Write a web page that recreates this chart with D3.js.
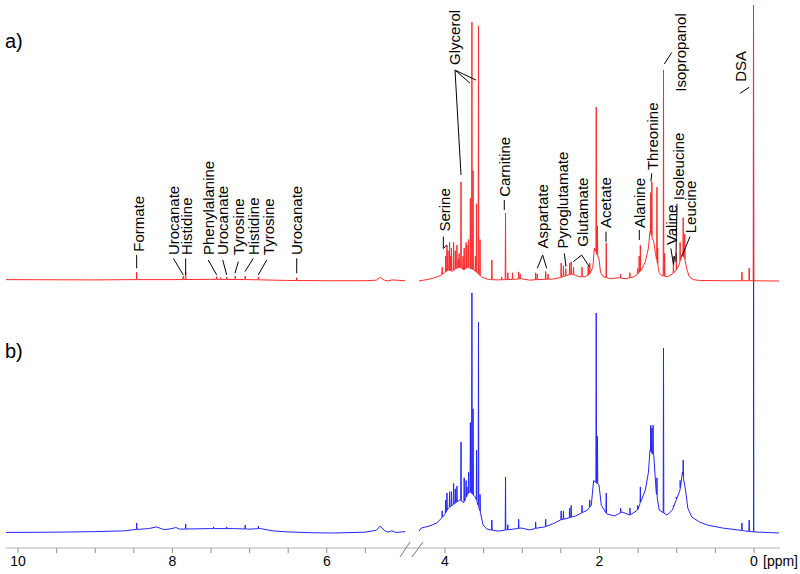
<!DOCTYPE html>
<html>
<head>
<meta charset="utf-8">
<script src="https://cdn.jsdelivr.net/npm/d3@7"></script>
<style>
  body { margin: 0; background: #fff; }
  text { font-family: Arial, "Liberation Sans", sans-serif; }
</style>
</head>
<body>
<svg width="800" height="574"></svg>
<script>
// spectra: [ppm, intensity] , baseline points + peak tops
const redBaseLeft = [[10.15,0.5],[9,0.4],[8.5,0.5],[8,0.5],[7.5,0.6],[7,0.5],[6.5,0.2],[6,0.1],[5.5,0.1],[5.35,0.3],[5.3,1.4],[5.25,0.3],[5.2,0],[5.15,0.4],[4.98,0.1]];
const redPeaksLeft = [[8.457,3.2],[7.853,1.8],[7.822,3.2],[7.42,1.6],[7.37,1.2],[7.29,1.4],[7.18,1.8],[7.05,1.8],[6.88,1.5],[6.383,1.2]];
const redBaseRight = [[4.33,0],[4.25,0.4],[4.15,1],[4.05,2],[4,3],[3.95,4],[3.9,3.5],[3.85,4.5],[3.8,5],[3.75,4],[3.7,5],[3.62,4],[3.58,3],[3.52,1.5],[3.45,0.7],[3.4,0.5],[3.3,0.4],[3.1,0.6],[3,0.8],[2.9,0.3],[2.8,0.5],[2.6,0.7],[2.5,1.2],[2.42,2],[2.35,2.5],[2.3,2],[2.25,1.5],[2.18,1.5],[2.12,2.5],[2.08,5],[2.06,12],[2,8],[1.98,3],[1.94,1.5],[1.85,0.8],[1.75,1.2],[1.65,0.8],[1.55,1.5],[1.5,2.5],[1.45,4],[1.4,7],[1.36,12],[1.34,18],[1.29,14],[1.27,10],[1.22,3],[1.19,2],[1.12,1.5],[1.08,2],[1.03,3],[1,4],[0.96,6],[0.92,10],[0.89,8],[0.86,4],[0.83,1.5],[0.78,0.5],[0.7,0.2],[0.4,0.1],[0.1,0.1],[-0.33,0]];
const redPeaksRight = [[4.03,5],[3.985,9],[3.968,13],[3.955,11],[3.934,14],[3.92,9],[3.91,12],[3.882,14],[3.86,11],[3.839,13],[3.82,8],[3.81,10],[3.786,35.9],[3.76,9],[3.745,12],[3.72,14],[3.71,13],[3.688,15],[3.665,30],[3.645,93.8],[3.63,40],[3.6,9],[3.585,28],[3.56,92.4],[3.54,15],[3.387,7.6],[3.26,1.5],[3.21,24.6],[3.18,3],[3.12,3],[3.04,3.3],[3.02,2.5],[2.82,3],[2.8,2.5],[2.69,3.5],[2.66,2.5],[2.49,6.5],[2.46,5.5],[2.43,4.5],[2.38,6.5],[2.36,7],[2.33,5],[2.22,5],[2.14,5.5],[2.12,6.5],[2.036,63],[2.02,20],[1.906,13.8],[1.72,2.5],[1.6,3],[1.5,4.5],[1.48,9],[1.465,13],[1.33,32],[1.316,35.9],[1.25,34],[1.24,12],[1.165,76.4],[1.15,10],[1.036,9],[1,10],[0.95,14],[0.91,23],[0.89,17],[0.15,3.3],[0.056,4.7],[0,100]];

const blueBaseLeft = [[10.15,0.2],[9.5,0.3],[9,0.5],[8.6,0.8],[8.5,1.2],[8.3,1.6],[8.2,2.2],[8.1,1.2],[8,1.6],[7.95,2],[7.9,1.4],[7.5,1.6],[7.2,1.6],[7,1.4],[6.85,1.6],[6.7,0.8],[6.5,0.4],[6.2,0.1],[5.9,0],[5.5,0.3],[5.35,1],[5.3,2.5],[5.25,1],[5.2,0.3],[5.15,0.8],[5.1,0.2],[4.98,0.5]];
const bluePeaksLeft = [[8.457,3.6],[7.822,3.3],[7.46,2.2],[7.29,2.2],[7.18,1.8],[7.05,2.9],[6.88,2.5]];
const blueBaseRight = [[4.33,0.7],[4.3,1.8],[4.2,2.5],[4.1,3.6],[4,6.5],[3.95,9],[3.9,10],[3.85,11],[3.8,12],[3.75,11],[3.7,14],[3.67,15],[3.6,13],[3.54,8],[3.5,2.9],[3.45,1.4],[3.4,1.1],[3.3,0.7],[3.2,1.1],[3,1.8],[2.9,1.1],[2.8,1.8],[2.7,2.2],[2.6,3.3],[2.5,4.7],[2.4,5.4],[2.3,6.2],[2.2,7.6],[2.15,8.3],[2.1,10],[2.07,19],[2,17.4],[1.97,10],[1.9,6.9],[1.8,6.2],[1.7,7.6],[1.6,6.5],[1.5,8.3],[1.45,12],[1.4,15.6],[1.36,22],[1.34,30],[1.29,28],[1.26,15],[1.22,8.3],[1.12,6.5],[1.05,8.3],[1,12],[0.95,15.6],[0.92,22],[0.88,15.6],[0.85,9],[0.8,5.8],[0.7,4],[0.6,2.9],[0.4,1.8],[0.2,1.1],[0.1,0.7],[0,0.4],[-0.33,0]];
const bluePeaksRight = [[4.03,8],[3.985,12],[3.968,14.5],[3.934,15],[3.91,15],[3.882,18],[3.86,16],[3.839,17],[3.786,33],[3.745,20],[3.72,19],[3.71,16.7],[3.688,22],[3.665,40],[3.645,87],[3.63,45],[3.585,30],[3.56,76.4],[3.54,14],[3.387,4.7],[3.21,20.3],[3.18,3],[3.04,5],[2.82,4],[2.69,5],[2.49,8],[2.46,8],[2.38,9],[2.36,10],[2.22,10],[2.12,12],[2.036,79.7],[2.02,35],[1.906,14.5],[1.72,9],[1.6,9],[1.5,10],[1.465,16.7],[1.33,39],[1.316,38],[1.3,39],[1.25,20],[1.165,67],[1.036,10],[1,13],[0.95,19],[0.91,26.4],[0.15,3.6],[0.056,4.7],[0,190]];

// axis ticks
const ticksLeft = [10,9.5,9,8.5,8,7.5,7,6.5,6,5.5];
const ticksRight = [4,3.5,3,2.5,2,1.5,1,0.5,0];
const tickLabels = [10,8,6,4,2,0];

// labels on the top spectrum: text at [ppm, I], leader polylines
const labelsLeft = [
  {name:'Formate', ppm:8.43, at:10.6, lead:[[[8.457,9.4],[8.457,4.6]]]},
  {name:'Urocanate', ppm:7.982, at:9.4, lead:[[[7.982,8.2],[7.853,2.2]]]},
  {name:'Histidine', ppm:7.809, at:9.4, lead:[[[7.822,8.2],[7.822,2.2]]]},
  {name:'Phenylalanine', ppm:7.529, at:9.4, lead:[[[7.529,7.6],[7.42,2.2]]]},
  {name:'Urocanate', ppm:7.342, at:9.4, lead:[[[7.342,7.6],[7.29,2.2]]]},
  {name:'Tyrosine', ppm:7.14, at:9.4, lead:[[[7.14,7],[7.183,2.8]]]},
  {name:'Histidine', ppm:6.946, at:9.4, lead:[[[6.946,8.2],[7.053,3.4]]]},
  {name:'Tyrosine', ppm:6.751, at:9.4, lead:[[[6.772,7.6],[6.881,2.2]]]},
  {name:'Urocanate', ppm:6.383, at:9.4, lead:[[[6.383,8.2],[6.383,2.8]]]}
];
const labelsRight = [
  {name:'Serine', ppm:4.002, at:17.9, lead:[[[4.015,16.1],[4.015,11.8],[3.971,13]]]},
  {name:'Glycerol', ppm:3.873, at:78.3, lead:[[[3.864,76.4],[3.786,38.4]],[[3.864,76.4],[3.67,71.7]],[[3.864,76.4],[3.592,72.8]]]},
  {name:'Carnitine', ppm:3.226, at:30.5, lead:[[[3.226,29.3],[3.226,25.7]]]},
  {name:'Aspartate', ppm:2.734, at:11.8, lead:[[[2.799,4.6],[2.729,9.4],[2.677,4.6]]]},
  {name:'Pyroglutamate', ppm:2.47, at:11.8, lead:[[[2.449,10],[2.427,5.2]]]},
  {name:'Glutamate', ppm:2.211, at:12.4, lead:[[[2.333,7],[2.224,9.4],[2.125,5.2]]]},
  {name:'Acetate', ppm:1.913, at:19.2, lead:[[[1.909,17.9],[1.909,14.2]]]},
  {name:'Alanine', ppm:1.478, at:19.2, lead:[[[1.478,18.5],[1.478,14.9]]]},
  {name:'Threonine', ppm:1.305, at:40.2, lead:[[[1.318,39],[1.327,36]]]},
  {name:'Valine', ppm:1.059, at:13, lead:[[[1.07,11.8],[1.036,6],[1.02,9]]]},
  {name:'Isoleucine', ppm:0.973, at:29.3, lead:[[[0.99,28],[1.005,7]]]},
  {name:'Leucine', ppm:0.813, at:17.3, lead:[[[0.822,16.1],[0.929,8.8]]]},
  {name:'Isopropanol', ppm:0.938, at:68.6, lead:[[[1.155,78.6],[1.059,82.8]]]},
  {name:'DSA', ppm:0.166, at:72.2, lead:[[[0.175,68],[0.055,70.2]]]}
];

const svg = d3.select('svg');
const xLeft = d3.scaleLinear().domain([10.15, 4.98]).range([6, 405]);
const xRight = d3.scaleLinear().domain([4.33, -0.33]).range([419, 779]);
const yRed = d3.scaleLinear().domain([0, 100]).range([281, 5]);
const yBlue = d3.scaleLinear().domain([0, 100]).range([533, 257]);

// baseline + narrow peaks -> one polyline
function buildTrace(base, peaks){
  const baseAt = d3.scaleLinear().domain(base.map(d => d[0])).range(base.map(d => d[1]));
  const w = 0.004;
  let pts = base.slice();
  peaks.forEach(([p, top]) => {
    pts.push([p + w, baseAt(p + w)]);
    pts.push([p, Math.max(top, baseAt(p))]);
    pts.push([p - w, baseAt(p - w)]);
  });
  pts.sort((a, b) => b[0] - a[0]);
  return pts;
}

function drawTrace(base, peaks, x, y, color){
  const line = d3.line().x(d => x(d[0])).y(d => y(d[1]));
  svg.append('path')
    .attr('d', line(buildTrace(base, peaks)))
    .attr('fill', 'none')
    .attr('stroke', color)
    .attr('stroke-width', 1)
    .attr('stroke-linejoin', 'round');
}

drawTrace(blueBaseLeft, bluePeaksLeft, xLeft, yBlue, '#2424ff');
drawTrace(blueBaseRight, bluePeaksRight, xRight, yBlue, '#2424ff');
drawTrace(redBaseLeft, redPeaksLeft, xLeft, yRed, '#ff2a2a');
drawTrace(redBaseRight, redPeaksRight, xRight, yRed, '#ff2a2a');

// labels
function drawLabels(labels, x){
  const g = svg.append('g');
  labels.forEach(l => {
    g.append('text')
      .attr('transform', `translate(${x(l.ppm)},${yRed(l.at)}) rotate(-90)`)
      .attr('dy', '0.36em')
      .attr('font-size', 15)
      .attr('fill', '#000')
      .text(l.name);
    l.lead.forEach(pl => {
      g.append('path')
        .attr('d', d3.line().x(d => x(d[0])).y(d => yRed(d[1]))(pl))
        .attr('fill', 'none')
        .attr('stroke', '#000')
        .attr('stroke-width', 1);
    });
  });
}
drawLabels(labelsLeft, xLeft);
drawLabels(labelsRight, xRight);

// axis
const axisY = 548;
const ax = svg.append('g').attr('transform', `translate(0,${axisY})`);
const fmt = d => tickLabels.includes(d) ? d : '';
ax.append('g').call(d3.axisBottom(xLeft).tickValues(ticksLeft).tickSize(5).tickSizeOuter(0).tickFormat(fmt));
ax.append('g').call(d3.axisBottom(xRight).tickValues(ticksRight).tickSize(5).tickSizeOuter(0).tickFormat(fmt));
ax.selectAll('.domain').remove();
ax.selectAll('line').attr('stroke', '#8c8c8c');
ax.selectAll('text').attr('font-size', 14).attr('fill', '#000').attr('dy', '0.71em');
ax.append('line').attr('x1', 6).attr('x2', 780).attr('stroke', '#b0b0b0');
ax.append('text').attr('x', 763).attr('y', 18).attr('font-size', 14).text('[ppm]');

// break marks
const bx = xLeft.range()[1];
[[bx - 5, bx + 5], [bx + 7, bx + 18]].forEach(([a, b]) => {
  svg.append('line').attr('x1', a).attr('y1', axisY + 9).attr('x2', b).attr('y2', axisY - 6)
    .attr('stroke', '#777').attr('stroke-width', 1);
});

// panel letters
svg.append('text').attr('x', 5).attr('y', 48).attr('font-size', 20).text('a)');
svg.append('text').attr('x', 5).attr('y', 358).attr('font-size', 20).text('b)');
</script>
</body>
</html>
